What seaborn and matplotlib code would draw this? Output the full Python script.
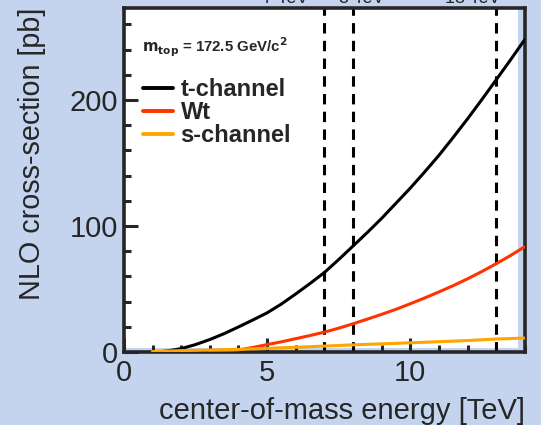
import matplotlib
matplotlib.use("Agg")
import matplotlib.pyplot as plt
import seaborn as sns
import pandas as pd
from matplotlib.ticker import MultipleLocator
from matplotlib.lines import Line2D

energy_t = [1.2, 1.5, 2, 2.5, 3, 3.5, 4, 4.5, 5, 5.5, 6, 6.5, 7, 7.5, 8, 8.5, 9, 9.5,
            10, 10.5, 11, 11.5, 12, 12.5, 13, 13.5, 14]
xsec_t = [0.0, 0.7, 2.6, 5.8, 9.8, 14.5, 19.8, 25.3, 31.0, 38.0, 46.0, 54.3, 63.0, 73.3,
          84.0, 94.8, 106.0, 118.0, 130.0, 142.8, 156.0, 170.3, 185.0, 200.3, 216.0, 231.8, 248.0]
energy_wt = [3, 3.5, 4, 4.5, 5, 5.5, 6, 6.5, 7, 7.5, 8, 8.5, 9, 9.5, 10, 10.5, 11, 11.5,
             12, 12.5, 13, 13.5, 14]
xsec_wt = [0.2, 0.6, 1.5, 3.5, 5.8, 8.0, 10.5, 13.0, 15.7, 18.8, 22.3, 26.0, 29.8, 33.8,
           38.2, 42.8, 47.6, 52.6, 58.0, 63.8, 70.0, 76.5, 83.5]
energy_s = [1, 2, 3, 4, 5, 6, 7, 8, 9, 10, 11, 12, 13, 14]
xsec_s = [0.3, 1.0, 1.5, 2.0, 2.8, 3.7, 4.6, 5.6, 6.4, 7.2, 8.1, 9.0, 10.2, 11.0]
channels = ["t-channel", "Wt", "s-channel"]
colors = ["#000000", "#ff3300", "#ffa500"]
lhc_energies = [7, 8, 13]
lhc_labels = ["7 TeV", "8 TeV", "13 TeV"]
lhc_label_pos = [5.66, 8.32, 12.2]

df = pd.concat([
    pd.DataFrame({"E": energy_t, "xsec": xsec_t, "channel": "t-channel"}),
    pd.DataFrame({"E": energy_wt, "xsec": xsec_wt, "channel": "Wt"}),
    pd.DataFrame({"E": energy_s, "xsec": xsec_s, "channel": "s-channel"}),
])

sns.set_style("ticks")
plt.rcParams["font.family"] = ["Liberation Sans", "DejaVu Sans"]

bg = "#c4d4ef"
fig = plt.figure(figsize=(5.41, 4.25), dpi=100, facecolor=bg)
ax = fig.add_axes([0.229, 0.172, 0.741, 0.809])
ax.set_facecolor("white")

ax.axvspan(13.75, 14, color=bg, lw=0, zorder=0)
ax.axhspan(0, 3, color=bg, lw=0, zorder=0)

for e in lhc_energies:
    ax.axvline(e, color="black", lw=2.2, ls=(0, (3.4, 2.4)), zorder=1)

sns.lineplot(data=df, x="E", y="xsec", hue="channel", hue_order=channels,
             palette=colors, lw=2.2, ax=ax, legend=False, zorder=3)

ax.set_xlim(0, 14)
ax.set_ylim(0, 273)
ax.xaxis.set_major_locator(MultipleLocator(5))
ax.xaxis.set_minor_locator(MultipleLocator(1))
ax.yaxis.set_major_locator(MultipleLocator(100))
ax.yaxis.set_minor_locator(MultipleLocator(20))
ax.tick_params(which="both", direction="in", width=2.2, labelsize=21,
               top=False, right=False)
ax.tick_params(which="major", length=10)
ax.tick_params(which="minor", length=5)
ax.tick_params(axis="x", pad=5)
ax.tick_params(axis="y", pad=4)
for s in ax.spines.values():
    s.set_linewidth(2.6)

ax.set_xlabel("center-of-mass energy [TeV]", fontsize=21, ha="right", x=1.0, labelpad=7)
ax.set_ylabel("NLO cross-section [pb]", fontsize=20.7, ha="right", y=1.0, labelpad=17)

ax.text(0.045, 0.885, r"$\mathbf{m_{top}}$ = 172.5 GeV/c$^\mathbf{2}$", transform=ax.transAxes,
        fontsize=10.8, fontweight="bold", va="center")

handles = [Line2D([], [], color=c, lw=2.8) for c in colors]
leg = ax.legend(handles, channels, loc="upper left", bbox_to_anchor=(0.0175, 0.83),
                frameon=False, handlelength=1.3, handletextpad=0.3,
                labelspacing=0.0, borderpad=0.2, borderaxespad=0.3,
                prop={"weight": "bold", "size": 17})

for x, lab in zip(lhc_label_pos, lhc_labels):
    fig.text(ax.transData.transform((x, 0))[0] / fig.bbox.width, 1 - 3 / 425, lab,
             fontsize=13, ha="center", va="baseline")

fig.savefig("out.png", dpi=100, facecolor=bg)
